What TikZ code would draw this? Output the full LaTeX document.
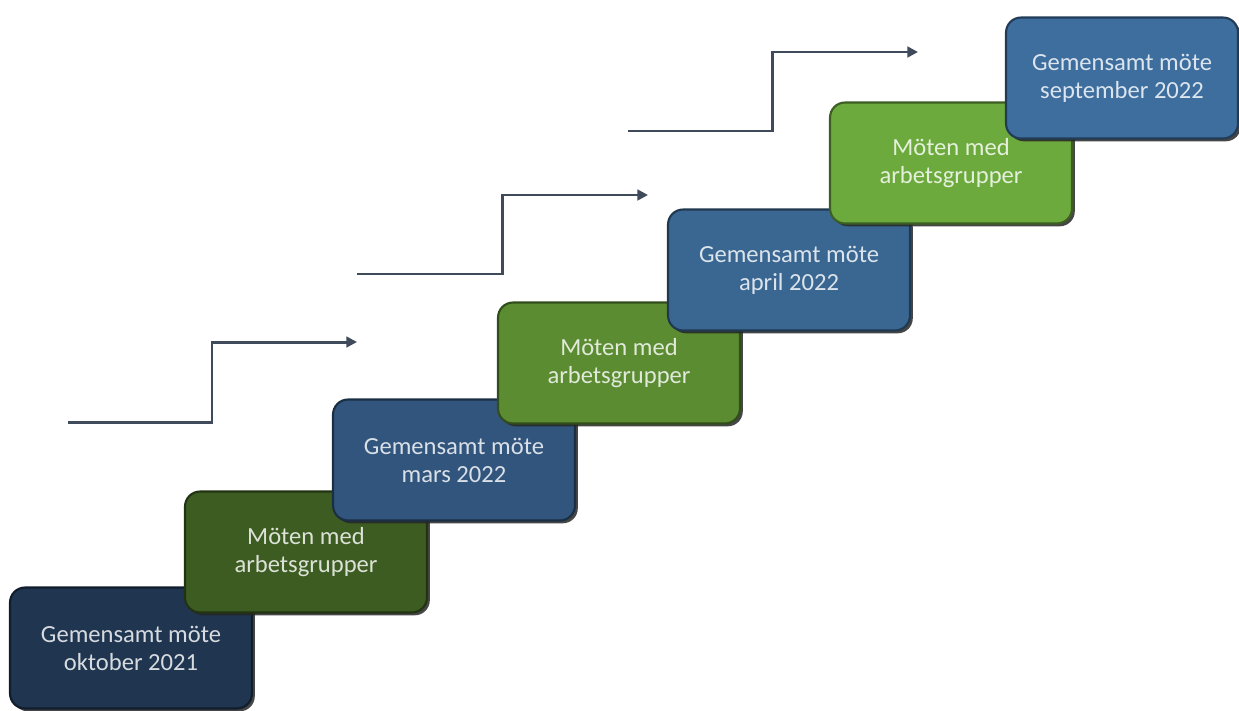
\documentclass[tikz,border=0pt]{standalone}
\usepackage{fontspec}
\setmainfont{Carlito}
\usetikzlibrary{arrows.meta,shadows}
\definecolor{navybox}{HTML}{1F3550}
\definecolor{darkgreenbox}{HTML}{3D5C22}
\definecolor{bluebox}{HTML}{31557C}
\definecolor{midgreenbox}{HTML}{5B8C32}
\definecolor{blueboxb}{HTML}{3A6792}
\definecolor{lightgreenbox}{HTML}{6DAA3D}
\definecolor{blueboxc}{HTML}{3D6E9E}
\definecolor{stairgray}{HTML}{3F4A5A}
\tikzset{stepbox/.style={draw=#1!55!black, line width=1.2pt, fill=#1,
    rounded corners=0.3cm, minimum width=4.84cm, minimum height=2.42cm,
    align=center, text=white!82!#1, font=\fontsize{14}{16}\selectfont,
    drop shadow={shadow xshift=1.6pt, shadow yshift=-1.6pt, fill=black!85, opacity=.85}},
stair/.style={draw=stairgray, line width=1.7pt, -{Triangle[length=6pt,width=6pt]}}}

\begin{document}
\begin{tikzpicture}[x=0.02cm,y=-0.02cm]
		\useasboundingbox (0,0) rectangle (1239,710);

		% steps, later ones on top
		\node[stepbox=navybox] (okt) at (131,648) {Gemensamt möte\\oktober 2021};
		\node[stepbox=darkgreenbox] (arb1) at (306,552) {Möten med\\arbetsgrupper};
		\node[stepbox=bluebox] (mars) at (454,460) {Gemensamt möte\\mars 2022};
		\node[stepbox=midgreenbox] (arb2) at (619,363) {Möten med\\arbetsgrupper};
		\node[stepbox=blueboxb] (april) at (789,270) {Gemensamt möte\\april 2022};
		\node[stepbox=lightgreenbox] (arb3) at (951,163) {Möten med\\arbetsgrupper};
		\node[stepbox=blueboxc, minimum width=4.64cm] (sept) at (1122,78) {Gemensamt möte\\september 2022};

		% stair arrows
		\coordinate (s1) at (68,422);
		\coordinate (e1) at (357,342);
		\coordinate (s2) at (357,274);
		\coordinate (e2) at (648,195);
		\coordinate (s3) at (628,131);
		\coordinate (e3) at (918,52);

		\draw[stair] (s1) -- (212,422) -- (212,342) -- (e1);
		\draw[stair] (s2) -- (502,274) -- (502,195) -- (e2);
		\draw[stair] (s3) -- (772,131) -- (772,52) -- (e3);

	\end{tikzpicture}
\end{document}
